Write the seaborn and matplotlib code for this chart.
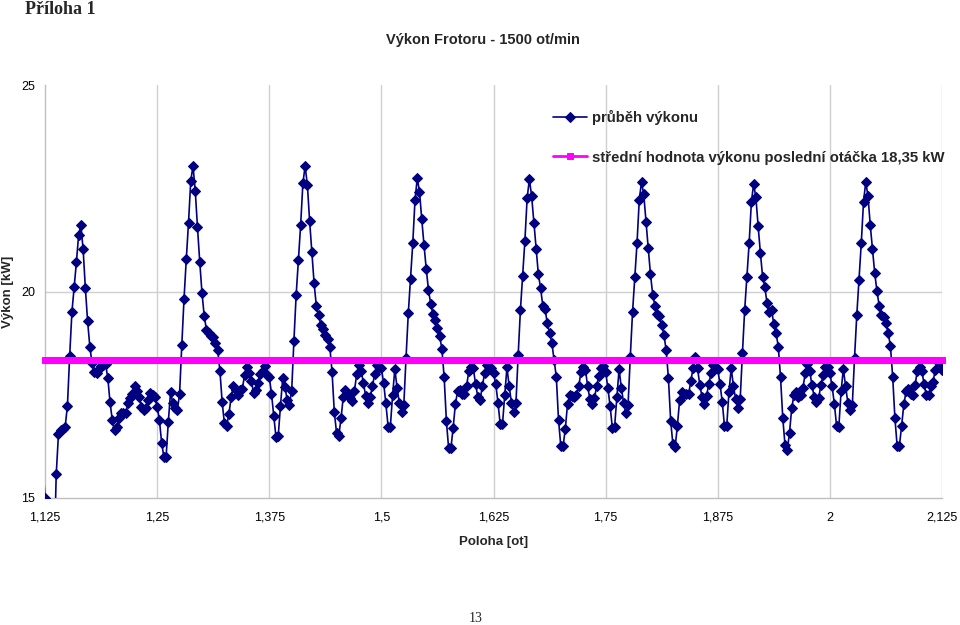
import numpy as np
import pandas as pd
import matplotlib
matplotlib.use("Agg")
import matplotlib.pyplot as plt
import seaborn as sns

# ---------------- data ----------------
x_start = 1.1225          # first sample (just left of the axis)
x_step = 0.0025           # 400 samples per turn
lead_value = [15.9]
period_1 = [15.0, 13.6, 12.9, 12.9, 13.4, 15.57, 16.54, 16.65, 16.66, 16.73,
            17.23, 18.44, 19.50, 20.10, 20.71, 21.37, 21.61, 21.02, 20.08, 19.28,
            18.66, 18.26, 18.06, 18.02, 18.12, 18.20, 18.21, 18.24, 17.91, 17.32,
            16.89, 16.65, 16.73, 16.93, 17.05, 17.07, 17.07, 17.29, 17.42, 17.53,
            17.70, 17.58, 17.45, 17.21, 17.13, 17.17, 17.37, 17.55, 17.50, 17.45]
period_2 = [17.21, 16.90, 16.34, 16.00, 16.00, 16.85, 17.57, 17.29, 17.17, 17.12,
            17.51, 18.70, 19.83, 20.78, 21.67, 22.68, 23.04, 22.44, 21.55, 20.72,
            19.97, 19.41, 19.07, 19.00, 18.92, 18.89, 18.76, 18.58, 18.08, 17.32,
            16.81, 16.75, 17.03, 17.44, 17.70, 17.62, 17.49, 17.62, 17.64, 17.98,
            18.18, 18.03, 17.84, 17.55, 17.62, 17.79, 18.00, 18.08, 18.20, 17.98]
period_3 = [17.94, 17.53, 16.99, 16.48, 16.50, 17.23, 17.90, 17.69, 17.37, 17.26,
            17.60, 18.81, 19.92, 20.76, 21.61, 22.62, 23.04, 22.58, 21.71, 20.95,
            20.20, 19.65, 19.43, 19.20, 19.10, 18.95, 18.84, 18.66, 18.06, 17.09,
            16.58, 16.50, 16.93, 17.44, 17.62, 17.52, 17.41, 17.36, 17.60, 18.00,
            18.22, 18.08, 17.78, 17.47, 17.31, 17.45, 17.70, 18.00, 18.22, 18.18]
period_4 = [18.14, 17.79, 17.29, 16.73, 16.73, 17.49, 18.12, 17.67, 17.31, 17.09,
            17.25, 18.40, 19.47, 20.30, 21.17, 22.22, 22.74, 22.42, 21.75, 21.13,
            20.55, 20.04, 19.70, 19.46, 19.31, 19.11, 18.92, 18.60, 17.92, 16.86,
            16.20, 16.20, 16.70, 17.27, 17.59, 17.62, 17.53, 17.51, 17.71, 18.08,
            18.18, 18.14, 17.76, 17.45, 17.37, 17.70, 18.02, 18.22, 18.18, 18.14]
period_5 = [18.02, 17.76, 17.31, 16.78, 16.78, 17.49, 18.16, 17.70, 17.31, 17.09,
            17.29, 18.46, 19.55, 20.38, 21.23, 22.26, 22.72, 22.31, 21.67, 21.02,
            20.42, 20.08, 19.65, 19.57, 19.23, 19.00, 18.76, 18.35, 17.94, 16.89,
            16.26, 16.25, 16.66, 17.27, 17.49, 17.47, 17.45, 17.49, 17.71, 18.04,
            18.18, 18.10, 17.70, 17.39, 17.27, 17.41, 17.71, 17.95, 18.14, 18.19]
period_6 = [18.06, 17.66, 17.23, 16.69, 16.73, 17.44, 18.12, 17.67, 17.31, 17.05,
            17.25, 18.42, 19.50, 20.34, 21.17, 22.22, 22.65, 22.35, 21.69, 21.05,
            20.42, 19.92, 19.65, 19.46, 19.41, 19.19, 18.95, 18.58, 17.90, 16.87,
            16.30, 16.23, 16.75, 17.37, 17.57, 17.53, 17.53, 17.51, 17.84, 18.14,
            18.41, 18.14, 17.73, 17.45, 17.27, 17.47, 17.76, 18.02, 18.22, 18.14]
period_7 = [18.12, 17.76, 17.33, 16.74, 16.74, 17.57, 18.14, 17.71, 17.39, 17.17,
            17.39, 18.50, 19.55, 20.36, 21.17, 22.17, 22.60, 22.28, 21.59, 20.94,
            20.36, 20.10, 19.71, 19.51, 19.55, 19.21, 19.00, 18.66, 17.92, 16.93,
            16.28, 16.16, 16.58, 17.19, 17.49, 17.57, 17.45, 17.49, 17.67, 18.02,
            18.24, 18.08, 17.73, 17.45, 17.33, 17.43, 17.73, 17.98, 18.16, 18.18]
period_8 = [18.02, 17.70, 17.28, 16.74, 16.73, 17.59, 18.12, 17.71, 17.31, 17.12,
            17.25, 18.40, 19.43, 20.29, 21.17, 22.17, 22.65, 22.31, 21.61, 21.02,
            20.44, 20.01, 19.65, 19.43, 19.39, 19.23, 19.00, 18.68, 17.94, 16.94,
            16.26, 16.26, 16.75, 17.28, 17.58, 17.65, 17.53, 17.49, 17.74, 18.08,
            18.18, 18.08, 17.76, 17.49, 17.49, 17.70, 17.82, 18.10, 18.30, 18.26]
trail_value = [18.10]
mean_power = 18.35

x_ticks = [1.125, 1.25, 1.375, 1.5, 1.625, 1.75, 1.875, 2.0, 2.125]
x_tick_labels = ["1,125", "1,25", "1,375", "1,5", "1,625", "1,75", "1,875", "2", "2,125"]
y_ticks = [15, 20, 25]

label_power = "průběh výkonu"
label_mean = "střední hodnota výkonu poslední otáčka 18,35 kW"
title = "Výkon Frotoru - 1500 ot/min"

# ---------------- assemble ----------------
power = (lead_value + period_1 + period_2 + period_3 + period_4 + period_5
         + period_6 + period_7 + period_8 + trail_value)
position = x_start + x_step * np.arange(len(power))
df = pd.DataFrame({"poloha": position, "vykon": power})
df_mean = df[(df["poloha"] >= 1.125 - 1e-9) & (df["poloha"] <= 2.125 + 1e-9)].copy()
df_mean["stredni"] = mean_power

# ---------------- style ----------------
sns.set_style("white")
plt.rcParams["font.family"] = ["Liberation Sans", "DejaVu Sans"]

fig = plt.figure(figsize=(9.6, 6.25), dpi=100)
ax = fig.add_axes([45 / 960, 1 - 498 / 625, (942 - 45) / 960, (498 - 85) / 625])

navy = "#000080"
magenta = "#FF00FF"
grid_c = "#cfcfcf"

sns.lineplot(data=df, x="poloha", y="vykon", ax=ax, color=navy, linewidth=1.2,
             marker="D", markersize=4.6, markeredgecolor=navy, markerfacecolor=navy,
             markevery=slice(1, None),
             estimator=None, sort=False, label=label_power, zorder=3)
sns.lineplot(data=df_mean, x="poloha", y="stredni", ax=ax, color=magenta, linewidth=2,
             marker="s", markersize=4.4, markeredgecolor=magenta, markerfacecolor=magenta,
             estimator=None, sort=False, label=label_mean, zorder=4, clip_on=False)

ax.set_xlim(1.125, 2.125)
ax.set_ylim(15, 25)
ax.set_xticks(x_ticks)
ax.set_xticklabels(x_tick_labels)
ax.set_yticks(y_ticks)
ax.set_yticklabels([str(v) for v in y_ticks])

ax.grid(False)
for xv in x_ticks[1:]:
    ax.axvline(xv, color=grid_c, lw=1.0, zorder=0)
ax.axhline(20, color=grid_c, lw=1.0, zorder=0)

for s in ["top", "right"]:
    ax.spines[s].set_visible(False)
for s in ["left", "bottom"]:
    ax.spines[s].set_color("#bfbfbf")
    ax.spines[s].set_linewidth(1.0)

ax.tick_params(axis="both", which="both", length=4, color="#bfbfbf", width=1,
               labelsize=9, labelcolor="black", direction="out")
ax.tick_params(axis="x", pad=6)
ax.tick_params(axis="y", pad=3)

ax.set_xlabel("Poloha [ot]", fontsize=9.5, fontweight="bold", labelpad=9)
ax.set_ylabel("Výkon [kW]", fontsize=9.5, fontweight="bold")
ax.yaxis.label.set_verticalalignment("center")
ax.yaxis.set_label_coords((8 - 45) / 897, 0.5)

leg = ax.legend(loc="upper left", bbox_to_anchor=(553 / 960, 1 - 110 / 625),
                bbox_transform=fig.transFigure, frameon=False,
                prop={"size": 10.7, "weight": "bold"},
                handlelength=2.3, handletextpad=0.3, labelspacing=1.72,
                borderaxespad=0, borderpad=0)

fig.text(483 / 960, 1 - 40 / 625, title, ha="center", va="center",
         fontsize=10.5, fontweight="bold")
fig.text(25 / 960, 1 - 10 / 625, "Příloha 1", ha="left", va="center",
         fontsize=13, fontweight="bold", family=["Liberation Serif", "DejaVu Serif"])
fig.text(476 / 960, 1 - 619 / 625, "13", ha="center", va="center",
         fontsize=10, family=["Liberation Serif", "DejaVu Serif"])

fig.savefig("out.png", dpi=100)
